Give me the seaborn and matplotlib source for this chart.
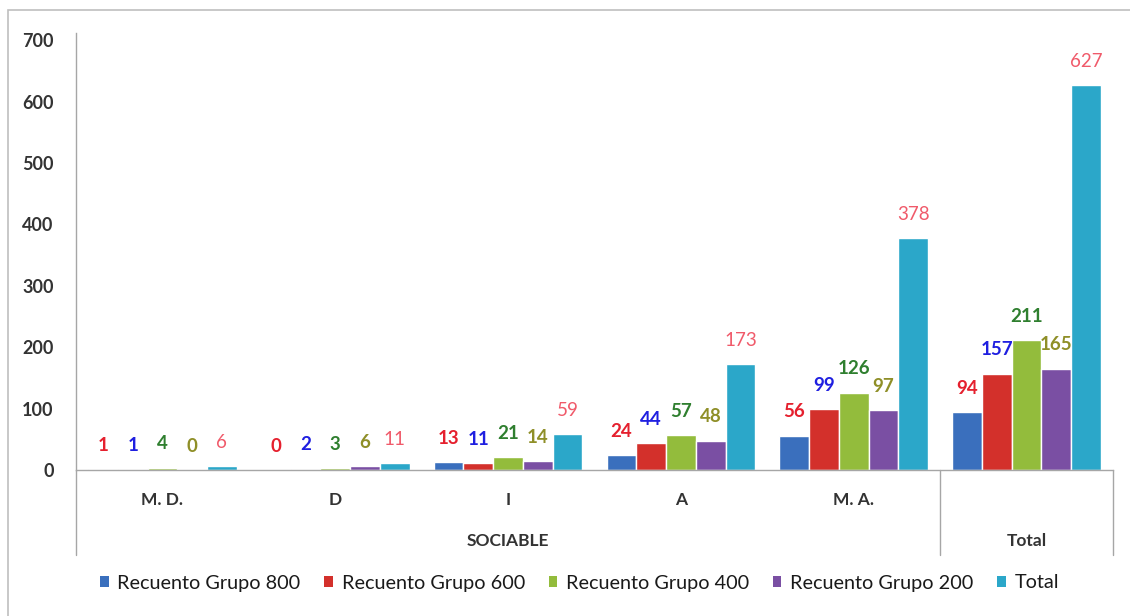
import seaborn as sns
import matplotlib.pyplot as plt
import matplotlib.transforms as mtransforms
from matplotlib.patches import Patch, Rectangle
import pandas as pd

# datos
categorias = ['M. D.', 'D', 'I', 'A', 'M. A.', 'Total']
etiquetas_x = ['M. D.', 'D', 'I', 'A', 'M. A.', '']
series = ['Recuento Grupo 800', 'Recuento Grupo 600', 'Recuento Grupo 400',
          'Recuento Grupo 200', 'Total']
grupo_800 = [1, 0, 13, 24, 56, 94]
grupo_600 = [1, 2, 11, 44, 99, 157]
grupo_400 = [4, 3, 21, 57, 126, 211]
grupo_200 = [0, 6, 14, 48, 97, 165]
total = [6, 11, 59, 173, 378, 627]
grupos = [('SOCIABLE', 0, 4), ('Total', 5, 5)]

colores_barras = ['#3a6fbd', '#d3302b', '#93bc3c', '#7a4fa3', '#2ba7c9']
colores_etiquetas = ['#e5202e', '#1f1fe0', '#2f7f2f', '#8f8f28', '#f05a6a']
pesos_etiquetas = ['bold', 'bold', 'bold', 'bold', 'normal']

valores = [grupo_800, grupo_600, grupo_400, grupo_200, total]
df = pd.DataFrame({
    'categoria': categorias * len(series),
    'serie': [s for s in series for _ in categorias],
    'valor': [v for fila in valores for v in fila],
})

sns.set_style('white')
plt.rcParams['font.family'] = ['Lato', 'DejaVu Sans']

fig = plt.figure(figsize=(11.3, 6.16), dpi=100)
ax = fig.add_axes([76 / 1130, 1 - 470 / 616, (1113 - 76) / 1130, 437 / 616])

sns.barplot(data=df, x='categoria', y='valor', hue='serie', order=categorias,
            hue_order=series, palette=colores_barras, width=0.86, gap=0,
            saturation=1, legend=False, ax=ax)

for cont, col, peso in zip(ax.containers, colores_etiquetas, pesos_etiquetas):
    ax.bar_label(cont, padding=11, color=col, fontsize=13.5, fontweight=peso)

ax.set_ylim(0, 712)
ax.set_xlim(-0.5, len(categorias) - 0.5)
ax.set_yticks(range(0, 701, 100))
ax.tick_params(axis='y', length=0, pad=16, labelsize=13, labelcolor='#333333')
for t in ax.get_yticklabels():
    t.set_fontweight('bold')
ax.set_xticks([])
ax.set_xlabel('')
ax.set_ylabel('')

for lado in ['top', 'right']:
    ax.spines[lado].set_visible(False)
for lado in ['left', 'bottom']:
    ax.spines[lado].set_color('#a6a6a6')
    ax.spines[lado].set_linewidth(1)

trans = mtransforms.blended_transform_factory(ax.transData, ax.transAxes)
bajo = (470 - 555) / 437
for i, c in enumerate(etiquetas_x):
    ax.text(i, (470 - 500) / 437, c, transform=trans, ha='center', va='center',
            fontsize=12.5, fontweight='bold', color='#333333')
for nombre, ini, fin in grupos:
    ax.text((ini + fin) / 2, (470 - 541) / 437, nombre, transform=trans,
            ha='center', va='center', fontsize=12.5, fontweight='bold',
            color='#333333')
for xd in [-0.5, 4.5, 5.5]:
    ax.plot([xd, xd], [0, bajo], transform=trans, clip_on=False,
            color='#a6a6a6', lw=1)

handles = [Patch(facecolor=c, edgecolor='none') for c in colores_barras]
fig.legend(handles, series, loc='center', bbox_to_anchor=(0.513, 1 - 583 / 616),
           ncol=5, frameon=False, fontsize=14.3, handlelength=0.42,
           handleheight=0.42, handletextpad=0.45, columnspacing=1.2,
           labelcolor='#1a1a1a')

fig.patches.append(Rectangle((8 / 1130, -0.1), 1.2, 1 - 10 / 616 + 0.1,
                             transform=fig.transFigure, fill=False,
                             edgecolor='#bfbfbf', lw=1.2))

fig.savefig('out.png', dpi=100)
